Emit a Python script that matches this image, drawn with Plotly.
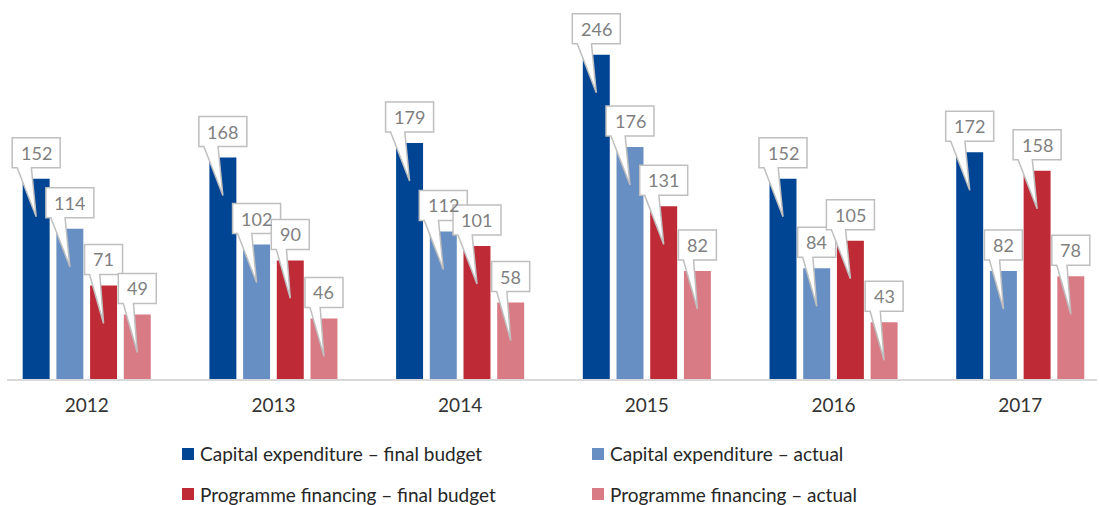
import plotly.graph_objects as go

years = ["2012", "2013", "2014", "2015", "2016", "2017"]
series_names = [
    "Capital expenditure – final budget",
    "Capital expenditure – actual",
    "Programme financing – final budget",
    "Programme financing – actual",
]
capex_budget = [152, 168, 179, 246, 152, 172]
capex_actual = [114, 102, 112, 176, 84, 82]
prog_budget = [71, 90, 101, 131, 105, 158]
prog_actual = [49, 46, 58, 82, 43, 78]

colors = ["#004494", "#678fc3", "#bf2a37", "#d97b85"]
series_values = [capex_budget, capex_actual, prog_budget, prog_actual]

font_family = "Lato, 'Open Sans', sans-serif"
W, H = 1099, 505
BARGAP = 0.278
BARGROUPGAP = 0.2
slot = (1 - BARGAP) / len(series_values)

fig = go.Figure()
shapes = []
annotations = []

for k, (name, vals) in enumerate(zip(series_names, series_values)):
    fig.add_trace(
        go.Bar(
            x=list(range(len(years))),
            y=vals,
            name=name,
            marker={"color": colors[k], "line": {"width": 0}},
            showlegend=False,
            hoverinfo="y",
        )
    )
    offset = (k - (len(series_values) - 1) / 2) * slot
    for i, v in enumerate(vals):
        # speech-bubble label: box above the bar, tail pointing into it
        xc = i + offset
        w = 18 + 10 * len(str(v))
        hw = w / 2
        bottom, top, tip = 11, 41, -38
        path = (
            f"M{-hw},{top} L{hw},{top} L{hw},{bottom} "
            f"L{-hw + 0.4 * w},{bottom} L0,{tip} L{-hw + 5},{bottom} "
            f"L{-hw},{bottom} Z"
        )
        shapes.append({
            "type": "path",
            "xref": "x", "yref": "y",
            "xsizemode": "pixel", "ysizemode": "pixel",
            "xanchor": xc, "yanchor": v,
            "path": path,
            "fillcolor": "white",
            "line": {"color": "#bfbfbf", "width": 1.5},
            "layer": "above",
        })
        annotations.append({
            "x": xc, "y": v, "xref": "x", "yref": "y",
            "text": str(v),
            "showarrow": False,
            "yshift": (bottom + top) / 2,
            "font": {"size": 18, "color": "#7f7f7f", "family": font_family},
        })

# hand-built legend, two columns by two rows (page pixels)
legend_cols = [182, 592]
legend_rows = [454, 494]
plot_top, plot_bottom = 10, 379
for k, name in enumerate(series_names):
    px = legend_cols[k % 2]
    py = legend_rows[k // 2]
    yc = (H - py - (H - plot_bottom)) / (plot_bottom - plot_top)
    shapes.append({
        "type": "rect",
        "xref": "paper", "yref": "paper",
        "xsizemode": "pixel", "ysizemode": "pixel",
        "xanchor": 0, "yanchor": yc,
        "x0": px - 7, "x1": px + 5,
        "y0": -6, "y1": 6,
        "fillcolor": colors[k],
        "line": {"width": 0},
    })
    annotations.append({
        "x": 0, "y": yc, "xref": "paper", "yref": "paper",
        "xanchor": "left", "yanchor": "middle",
        "xshift": px - 7 + 16,
        "text": name,
        "showarrow": False,
        "font": {"size": 19, "color": "#262626", "family": font_family},
    })

fig.update_layout(
    width=W,
    height=H,
    barmode="group",
    bargap=BARGAP,
    bargroupgap=BARGROUPGAP,
    margin={"l": 7, "r": 2, "t": plot_top, "b": H - plot_bottom},
    plot_bgcolor="white",
    paper_bgcolor="white",
    showlegend=False,
    xaxis={
        "range": [-0.427, 5.411],
        "tickvals": list(range(len(years))),
        "ticktext": years,
        "showline": True,
        "linecolor": "#d9d9d9",
        "linewidth": 2,
        "ticks": "outside",
        "ticklen": 8,
        "tickcolor": "rgba(0,0,0,0)",
        "showgrid": False,
        "zeroline": False,
        "tickfont": {"size": 19, "color": "#333333", "family": font_family},
        "fixedrange": True,
    },
    yaxis={
        "range": [0, 280],
        "visible": False,
        "fixedrange": True,
    },
    shapes=shapes,
    annotations=annotations,
)

fig.write_html(
    "out.html",
    config={"displayModeBar": False},
    post_script="document.body.style.margin = '0';",
)
